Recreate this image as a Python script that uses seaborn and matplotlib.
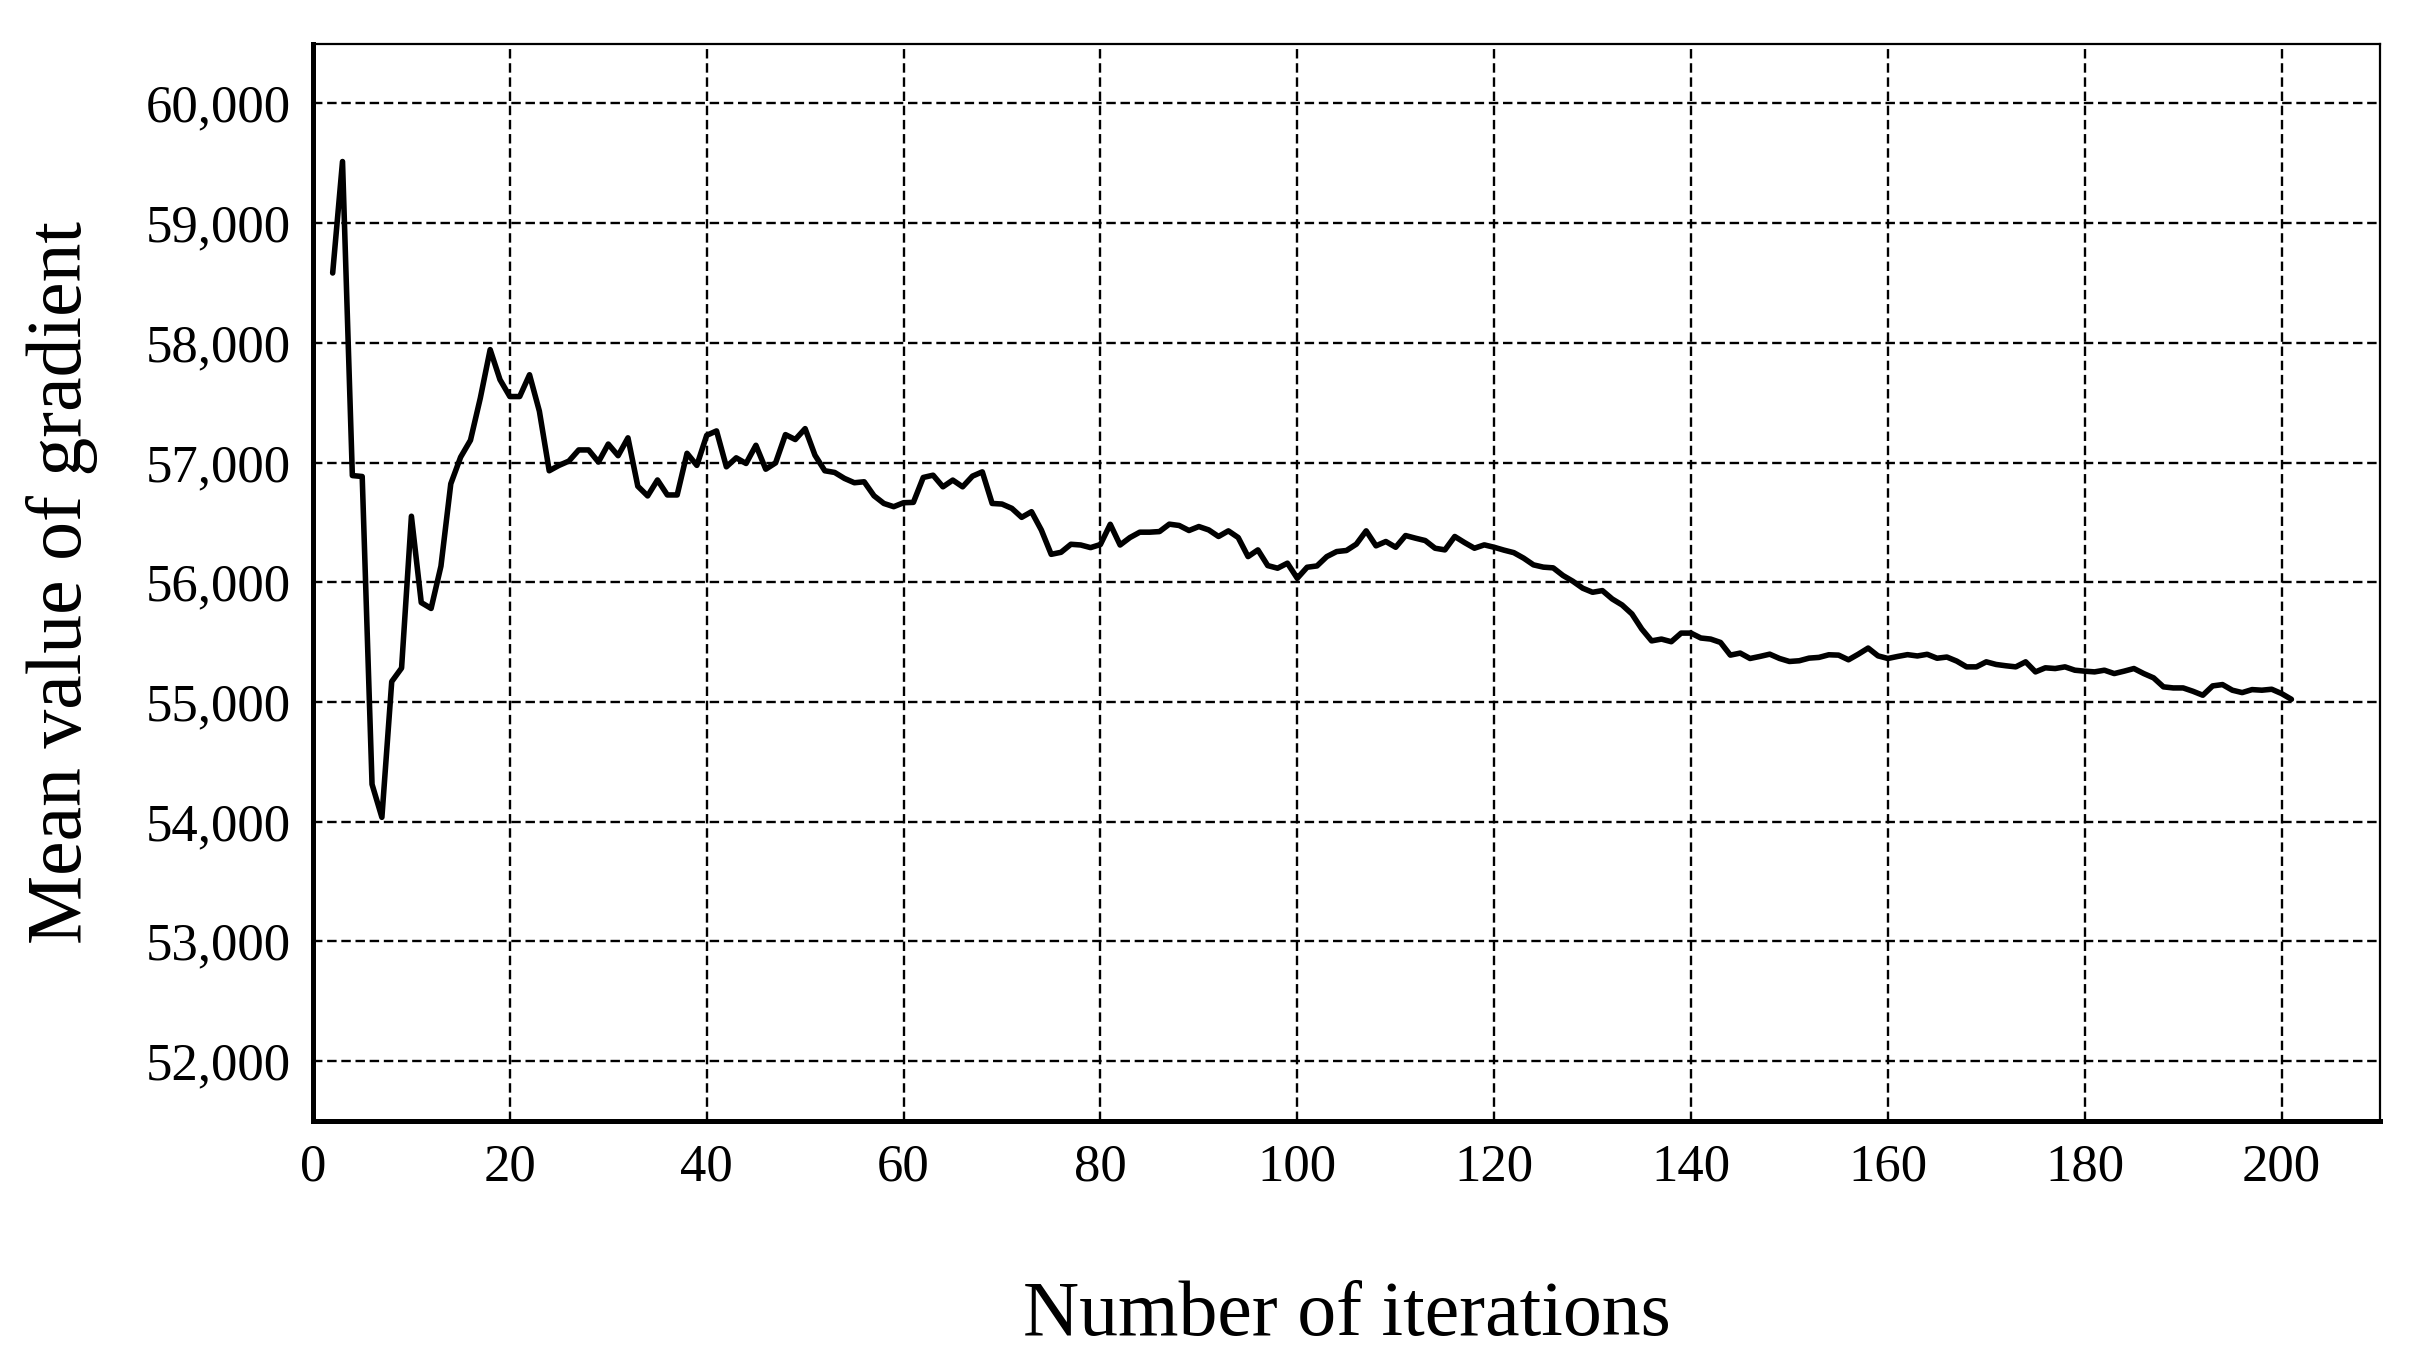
import matplotlib
matplotlib.use("Agg")
import matplotlib.pyplot as plt
import matplotlib.ticker as mticker
import pandas as pd
import seaborn as sns

# values, one per iteration (2..201)
iterations = list(range(2, 202))
mean_gradient = [
    58583, 59514, 56891, 56883, 54312, 54036, 55170, 55283, 56551, 55830,
    55781, 56134, 56822, 57045, 57186, 57538, 57943, 57692, 57551, 57551,
    57733, 57429, 56931, 56976, 57012, 57105, 57105, 57004, 57154, 57057,
    57206, 56802, 56721, 56854, 56729, 56729, 57077, 56976, 57227, 57264,
    56964, 57039, 56992, 57144, 56944, 56997, 57233, 57192, 57283, 57061,
    56931, 56917, 56867, 56831, 56839, 56722, 56658, 56631, 56664, 56667,
    56875, 56894, 56797, 56853, 56797, 56886, 56922, 56658, 56653, 56617,
    56542, 56589, 56436, 56233, 56250, 56317, 56311, 56289, 56315, 56484,
    56311, 56373, 56418, 56418, 56423, 56485, 56474, 56432, 56465, 56437,
    56382, 56429, 56373, 56214, 56270, 56139, 56117, 56159, 56033, 56125,
    56136, 56214, 56256, 56265, 56318, 56429, 56304, 56340, 56292, 56390,
    56368, 56348, 56284, 56270, 56382, 56331, 56284, 56312, 56292, 56268,
    56247, 56201, 56145, 56126, 56120, 56056, 56008, 55950, 55916, 55930,
    55860, 55810, 55735, 55609, 55510, 55525, 55503, 55575, 55575, 55534,
    55525, 55497, 55391, 55408, 55363, 55380, 55399, 55363, 55338, 55344,
    55366, 55372, 55394, 55391, 55352, 55399, 55450, 55385, 55363, 55380,
    55395, 55384, 55398, 55365, 55375, 55341, 55293, 55293, 55335, 55313,
    55302, 55293, 55335, 55251, 55285, 55279, 55293, 55265, 55257, 55251,
    55265, 55237, 55257, 55279, 55237, 55201, 55126, 55117, 55117, 55089,
    55056, 55134, 55145, 55098, 55078, 55103, 55098, 55106, 55070, 55022,
]
x_ticks = list(range(0, 201, 20))
y_ticks = list(range(52000, 60001, 1000))

df = pd.DataFrame({"iteration": iterations, "gradient": mean_gradient})

sns.set_style("white")
plt.rcParams["font.family"] = ["Liberation Serif", "DejaVu Serif"]
plt.rcParams["text.color"] = "black"
plt.rcParams["axes.labelcolor"] = "black"

fig = plt.figure(figsize=(24.15, 13.68), dpi=100)
ax = fig.add_axes([0.1296, 0.1806, 0.8559, 0.7876])

sns.lineplot(data=df, x="iteration", y="gradient", color="black",
             linewidth=4.0, ax=ax)

ax.set_xlim(0, 210)
ax.set_ylim(51500, 60500)
ax.set_xticks(x_ticks)
ax.set_yticks(y_ticks)
ax.yaxis.set_minor_locator(mticker.MultipleLocator(500))
ax.yaxis.set_major_formatter(mticker.StrMethodFormatter("{x:,.0f}"))

ax.grid(True, which="major", color="black", linestyle=(0, (4, 2)),
        linewidth=1.7)
ax.set_axisbelow(True)

ax.tick_params(axis="both", which="major", direction="in", length=12,
               width=3.5, labelsize=38, pad=16, color="black",
               labelcolor="black")
ax.tick_params(axis="y", which="minor", direction="in", length=6,
               width=3.5, color="black")

for side in ["left", "bottom"]:
    ax.spines[side].set_linewidth(3.6)
for side in ["top", "right"]:
    ax.spines[side].set_linewidth(1.6)
for s in ax.spines.values():
    s.set_color("black")

ax.set_xlabel("Number of iterations", fontsize=56, labelpad=64, color="black")
ax.set_ylabel("Mean value of gradient", fontsize=56, labelpad=34, color="black")

plt.savefig("out.png", dpi=100)
